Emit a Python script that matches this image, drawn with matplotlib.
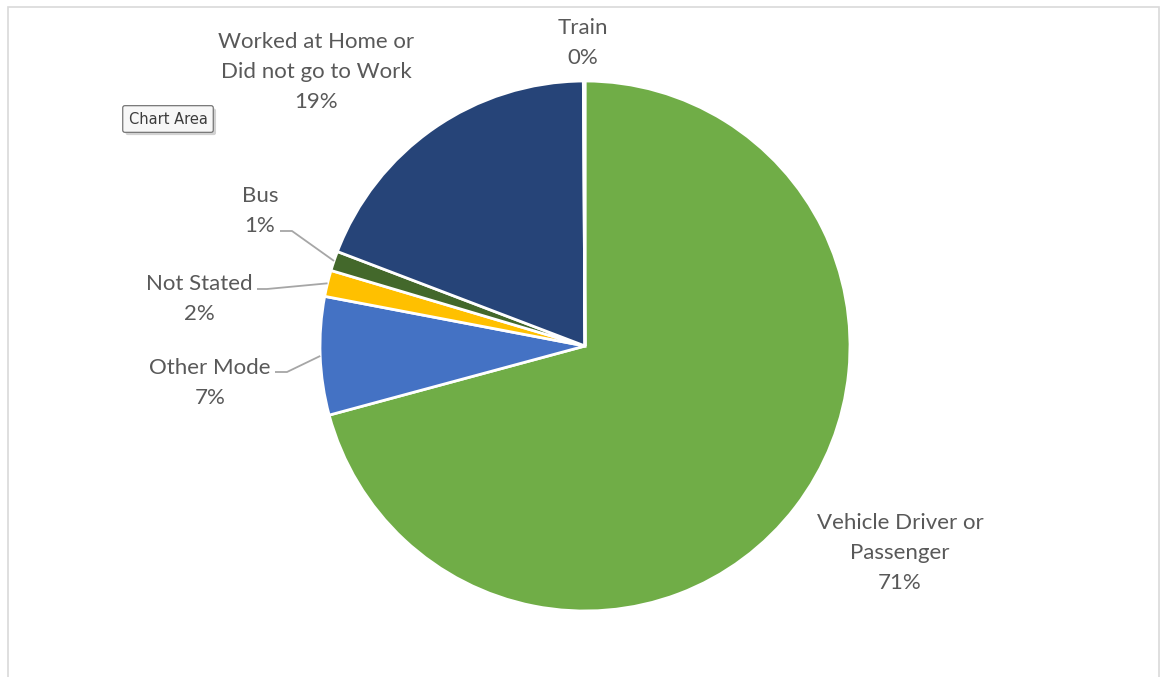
import numpy as np
import matplotlib.pyplot as plt
import matplotlib.patheffects as pe
from matplotlib.patches import Rectangle

# Journey to work - share by mode
modes = ["Vehicle Driver or\nPassenger", "Other Mode", "Not Stated", "Bus",
         "Worked at Home or\nDid not go to Work", "Train"]
shares = [70.8, 7.2, 1.6, 1.2, 19.1, 0.1]
colours = ["#70AD47", "#4472C4", "#FFC000", "#43682B", "#264478", "#A5A5A5"]

W, H = 1160, 677
fig = plt.figure(figsize=(W / 100, H / 100), dpi=100)
ax = fig.add_axes([0, 0, 1, 1])

cx, cy, r = 585, H - 346, 265
wedges, _ = ax.pie(shares, colors=colours, startangle=90, counterclock=False,
                   center=(cx, cy), radius=r,
                   wedgeprops=dict(edgecolor="white", linewidth=2))
ax.set_xlim(0, W)
ax.set_ylim(0, H)
ax.set_aspect("equal")
ax.axis("off")

# chart area border
ax.add_patch(Rectangle((7.5, -20), 1151.5, H - 7 + 20, fill=False,
                       edgecolor="#D9D9D9", linewidth=1.2))

txt = dict(color="#595959", fontsize=16, family="Lato", ha="center",
           va="center", linespacing=1.6)

# label positions (pixel coords from top-left) and leader line starts
label_pos = [(900, 553), (210, 383), (199, 299), (260, 211), (316, 72), (583, 43)]
leaders = {1: (275, 287, 372), 2: (257, 267, 289), 3: (280, 292, 231)}

for i, (name, val) in enumerate(zip(modes, shares)):
    x, y = label_pos[i]
    ax.text(x, H - y, f"{name}\n{round(val):d}%", **txt)
    if i in leaders:
        w = wedges[i]
        mid = np.deg2rad((w.theta1 + w.theta2) / 2)
        ex, ey = cx + r * np.cos(mid), cy + r * np.sin(mid)
        x0, x1, ly = leaders[i]
        ax.plot([x0, x1, ex], [H - ly, H - ly, ey], color="#A6A6A6", lw=1.3,
                solid_capstyle="butt")

# the "Chart Area" tooltip from the screenshot
tip = ax.text(168, H - 119, "Chart Area", fontsize=10.5, family="DejaVu Sans",
              color="#3C3C3C", ha="center", va="center",
              bbox=dict(boxstyle="round,pad=0.4,rounding_size=0.15",
                        facecolor="#F7F7F7", edgecolor="#767676", linewidth=0.9))
tip.get_bbox_patch().set_path_effects([
    pe.SimplePatchShadow(offset=(2, -2), shadow_rgbFace="#808080", alpha=0.35),
    pe.Normal()])

fig.savefig("out.png", dpi=100)
